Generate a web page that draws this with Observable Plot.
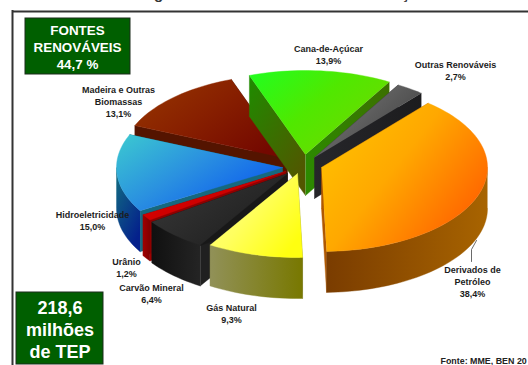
<!DOCTYPE html>
<html>
<head>
<meta charset="utf-8">
<script src="https://cdn.jsdelivr.net/npm/d3@7"></script>
<script src="https://cdn.jsdelivr.net/npm/@observablehq/plot@0.6"></script>
<style>
  html, body { margin: 0; padding: 0; background: #fff; overflow: hidden; }
  svg { display: block; }
</style>
</head>
<body>
<div id="chart"></div>
<script>
// Brazilian energy supply by source, clockwise from the top of the pie
const sources = ["Derivados de\nPetróleo", "Gás Natural", "Carvão Mineral", "Urânio", "Hidroeletricidade", "Madeira e Outras\nBiomassas", "Cana-de-Açúcar", "Outras Renováveis"];
const shares = [38.4, 9.3, 6.4, 1.2, 15.0, 13.1, 13.9, 2.7];

// Where each exploded slice has its point on the canvas
const tipX = [321, 297, 287, 285, 282, 287, 305, 314];
const tipY = [167, 173, 173, 171, 167, 158, 154, 157];

// Label block centres
const labelX = [472, 231, 151, 126, 92, 118, 328, 455];
const labelY = [280.5, 312.5, 292.5, 266.5, 219.5, 100.5, 53.5, 69.5];

// Back-to-front painting order
const paintOrder = [5, 6, 7, 0, 4, 3, 2, 1];

const firstAngle = 40, radiusX = 166, radiusY = 84, depth = 41;

// Per-slice colours: top face, rim, and the walls along each radial edge
const faceColors = [["#ffc800", "#ffa800", "#ff6000"], ["#ffff80", "#ffff60", "#ffff10"], ["#3a3a3a", "#2c2c2c", "#1e1e1e"], ["#e00000", "#d00000", "#c00000"], ["#3ccad0", "#2a90e0", "#0a58f0"], ["#983800", "#882000", "#740800"], ["#20ff20", "#50e800", "#70d800"], ["#808080", "#606060", "#404040"]];
const rimColors = [["#7a3c00", "#a86400"], ["#919158", "#787800"], ["#101010", "#242424"], ["#a00000", "#800000"], ["#127080", "#04208c"], ["#501400", "#501400"], ["#2a7a00", "#2a7a00"], ["#222222", "#222222"]];
const wallColors = [["#b05800", "#b05800"], ["#808040", "#808040"], ["#181818", "#181818"], ["#900000", "#900000"], ["#16687e", "#16687e"], ["#541400", "#541400"], ["#2c8a00", "#3c7000"], ["#26262a", "#1c1c1e"]];
const firstWallColors = [["#b05800", "#b05800"], ["#808040", "#808040"], ["#202020", "#202020"], ["#a00000", "#a00000"], ["#16687e", "#16687e"], ["#541400", "#541400"], ["#1e8c00", "#525600"], ["#26262a", "#26262a"]];

const rad = (d) => (d * Math.PI) / 180;
const arcPoint = (i, deg, drop = 0) => ({
  x: tipX[i] + radiusX * Math.sin(rad(deg)),
  y: tipY[i] - radiusY * Math.cos(rad(deg)) + drop
});
const arcPoints = (i, from, to, drop = 0) => {
  const n = Math.max(2, Math.ceil(Math.abs(to - from) / 2));
  return d3.range(n + 1).map((k) => arcPoint(i, from + ((to - from) * k) / n, drop));
};

const cumulative = d3.cumsum(shares);
const startOf = (i) => firstAngle + (i ? cumulative[i - 1] : 0) * 3.6;
const endOf = (i) => firstAngle + cumulative[i] * 3.6;

// Gradient definitions referenced by the slice fills
function gradients() {
  const defs = d3.create("svg:defs");
  const add = (id, colors, x2, y2) => {
    const g = defs.append("linearGradient").attr("id", id).attr("x1", 0).attr("y1", 0).attr("x2", x2).attr("y2", y2);
    colors.forEach((c, k) => {
      g.append("stop").attr("offset", `${(100 * k) / (colors.length - 1)}%`).attr("stop-color", c);
    });
  };
  shares.forEach((_, i) => {
    add(`face${i}`, faceColors[i], 1, 0.7);
    add(`rim${i}`, rimColors[i], i === 4 ? 0.6 : 1, i === 4 ? 1 : 0);
    add(`wallA${i}`, firstWallColors[i], 0.7, 1);
    add(`wallB${i}`, wallColors[i], 1, 0);
  });
  return defs.node();
}

function polygon(points, fill) {
  return Plot.line(points, { x: "x", y: "y", fill, stroke: fill, strokeWidth: 0.4, curve: "linear" });
}

function sliceMarks(i) {
  const a0 = startOf(i), a1 = endOf(i);
  const tip = { x: tipX[i], y: tipY[i] };
  const tipLow = { x: tipX[i], y: tipY[i] + depth };
  const marks = [];
  marks.push(polygon([tip, arcPoint(i, a0), arcPoint(i, a0, depth), tipLow], `url(#wallA${i})`));
  marks.push(polygon([tip, arcPoint(i, a1), arcPoint(i, a1, depth), tipLow], `url(#wallB${i})`));
  // Only the part of the rim that faces the viewer
  const r0 = Math.max(a0, 90), r1 = Math.min(a1, 270);
  if (r1 > r0) {
    marks.push(polygon([...arcPoints(i, r0, r1), ...arcPoints(i, r1, r0, depth)], `url(#rim${i})`));
  }
  marks.push(polygon([tip, ...arcPoints(i, a0, a1)], `url(#face${i})`));
  return marks;
}

const labels = sources.map((name, i) => ({
  text: `${name}\n${shares[i].toFixed(1).replace(".", ",")}%`,
  x: labelX[i],
  y: labelY[i]
}));

// Leader from the petroleum rim down to its label
const leader = [{ x: 476, y: 240 }, { x: 471, y: 249 }, { x: 471, y: 261 }];

const renewableBox = [{ x1: 25, x2: 130, y1: 18, y2: 74 }];
const totalBox = [{ x1: 16, x2: 103, y1: 292, y2: 364 }];
const boxStyle = { x1: "x1", x2: "x2", y1: "y1", y2: "y2", fill: "#005f00", stroke: "#1c2c1c", strokeWidth: 1 };
const font = "Liberation Sans, Arial, sans-serif";

const chart = Plot.plot({
  width: 528,
  height: 365,
  margin: 0,
  style: { background: "#fff", fontFamily: font },
  x: { domain: [0, 528], range: [0, 528], axis: null },
  y: { domain: [0, 365], range: [0, 365], axis: null },
  marks: [
    gradients,
    // Chart frame
    Plot.ruleY([11], { stroke: "#333", strokeWidth: 2, x1: 12, x2: 528 }),
    Plot.ruleX([12], { stroke: "#333", strokeWidth: 2, y1: 10, y2: 365 }),
    // Remains of the heading above the frame
    Plot.text(["g", "ç"], { x: [158, 405], y: [-6, -6], text: (d) => d, fontSize: 15, fontWeight: "bold", fill: "#333" }),
    ...paintOrder.flatMap(sliceMarks),
    Plot.line(leader, { x: "x", y: "y", stroke: "#444", strokeWidth: 0.8, curve: "linear" }),
    Plot.text(labels, { x: "x", y: "y", text: "text", fontSize: 9, fontWeight: "bold", lineHeight: 1.35, fill: "#1c1c1c", stroke: "none" }),
    Plot.text(["Fonte: MME, BEN 20"], { x: 440, y: 360.5, textAnchor: "start", fontSize: 8.9, fontWeight: "bold", fill: "#222" }),
    Plot.rect(renewableBox, boxStyle),
    Plot.text(["FONTES\nRENOVÁVEIS\n44,7 %"], { x: 77, y: 46, fontSize: 13.4, fontWeight: "bold", lineHeight: 1.25, fill: "#fff" }),
    Plot.rect(totalBox, boxStyle),
    Plot.text(["218,6\nmilhões\nde TEP"], { x: 59.5, y: 328.5, fontSize: 18, fontWeight: "bold", lineHeight: 1.22, fill: "#fff" })
  ]
});
document.getElementById("chart").append(chart);
</script>
</body>
</html>
